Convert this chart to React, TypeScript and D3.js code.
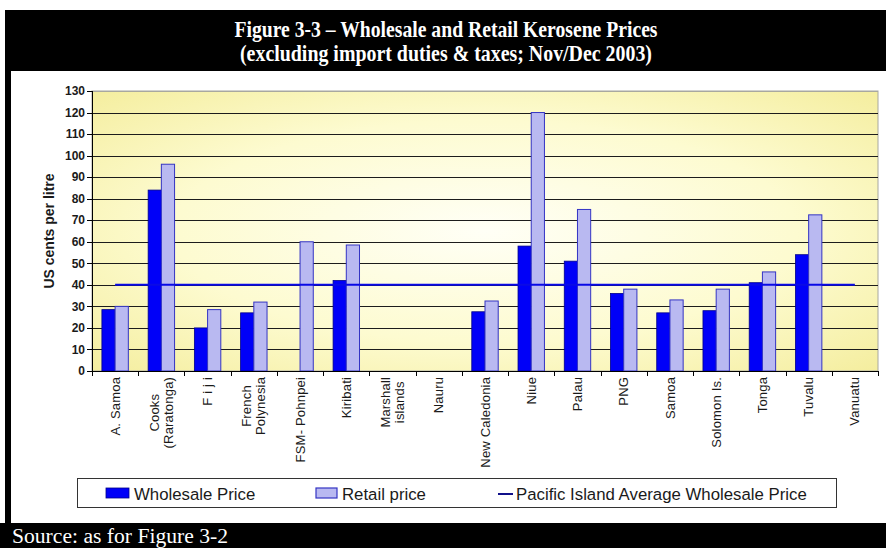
import React from "react";
import * as d3 from "d3";

const categories = [
  "A. Samoa",
  "Cooks\n(Raratonga)",
  "F i j i",
  "French\nPolynesia",
  "FSM- Pohnpei",
  "Kiribati",
  "Marshall\nislands",
  "Nauru",
  "New Caledonia",
  "Niue",
  "Palau",
  "PNG",
  "Samoa",
  "Solomon Is.",
  "Tonga",
  "Tuvalu",
  "Vanuatu",
];
const wholesale: (number | null)[] = [28.5, 84, 20, 27, null, 42, null, null, 27.5, 58, 51, 36, 27, 28, 41, 54, null];
const retail: (number | null)[] = [30, 96, 28.5, 32, 60, 58.5, null, null, 32.5, 120, 75, 38, 33, 38, 46, 72.5, null];
const averageWholesale = 40;
const yTicks = [0, 10, 20, 30, 40, 50, 60, 70, 80, 90, 100, 110, 120, 130];
const seriesNames = ["Wholesale Price", "Retail price"];
const lineName = "Pacific Island Average Wholesale Price";
const titleLines = [
  "Figure 3-3 \u2013 Wholesale and Retail Kerosene Prices",
  "(excluding import duties & taxes; Nov/Dec 2003)",
];
const yTitle = "US cents per litre";
const sourceText = "Source: as for Figure 3-2";

const W = 886;
const H = 548;
const plot = { left: 92, right: 878, top: 91, bottom: 371 };

const WHOLESALE_FILL = "#0000f8";
const WHOLESALE_STROKE = "#00008a";
const RETAIL_FILL = "#b9b9f1";
const RETAIL_STROKE = "#3434c4";
const LINE_COLOR = "#0a0ae6";
const SANS = "'Liberation Sans', Arial, sans-serif";
const SERIF = "'Liberation Serif', 'Times New Roman', serif";

let ctx: CanvasRenderingContext2D | null = null;
function measure(text: string, font: string, spacing = 0): number {
  if (!ctx) {
    const c = document.createElement("canvas");
    ctx = c.getContext("2d");
  }
  if (!ctx) return text.length * 6;
  ctx.font = font;
  return ctx.measureText(text).width + spacing * Math.max(0, text.length - 1);
}

export default function App() {
  const x = d3.scaleBand<string>().domain(categories).range([plot.left, plot.right]).padding(0);
  const inner = d3
    .scaleBand<string>()
    .domain(seriesNames)
    .range([0, x.bandwidth()])
    .paddingInner(0)
    .paddingOuter(0.75);
  const y = d3.scaleLinear().domain([0, 130]).range([plot.bottom, plot.top]);

  const boundaries = categories.map((c) => x(c) as number).concat([plot.right]);
  const labelSize = 13;
  const labelFont = `${labelSize}px ${SANS}`;
  const labelSpacing = 0.2;
  const labelTop = 377;

  const firstCenter = (x(categories[0]) as number) + x.bandwidth() / 2;
  const lastCenter = (x(categories[categories.length - 1]) as number) + x.bandwidth() / 2;

  return (
    <svg
      width={W}
      height={H}
      style={{ position: "absolute", left: 0, top: 0, display: "block", background: "#fff" }}
    >
      <defs>
        <radialGradient id="plotBg" cx="50%" cy="50%" r="72%">
          <stop offset="0%" stopColor="#fffff6" />
          <stop offset="55%" stopColor="#fdfbd0" />
          <stop offset="100%" stopColor="#f4ed9c" />
        </radialGradient>
      </defs>

      {/* header band */}
      <rect x={5} y={10} width={W - 5} height={61} fill="#000" />
      {titleLines.map((t, i) => (
        <text
          key={i}
          x={446}
          y={37 + i * 24}
          textAnchor="middle"
          fill="#fff"
          fontFamily={SERIF}
          fontWeight="bold"
          fontSize={22.5}
          textLength={i === 0 ? 423 : 412}
          lengthAdjust="spacingAndGlyphs"
        >
          {t}
        </text>
      ))}
      {/* left border */}
      <rect x={5} y={10} width={6} height={H - 10} fill="#000" />
      {/* source band */}
      <rect x={0} y={523} width={W} height={H - 523} fill="#000" />
      <text
        x={12}
        y={543}
        fill="#fff"
        fontFamily={SERIF}
        fontSize={20}
        textLength={216}
        lengthAdjust="spacingAndGlyphs"
      >
        {sourceText}
      </text>

      {/* plot background */}
      <rect
        x={plot.left}
        y={plot.top}
        width={plot.right - plot.left}
        height={plot.bottom - plot.top}
        fill="url(#plotBg)"
        stroke="#a8a8a0"
        strokeWidth={1}
      />
      {/* gridlines */}
      {yTicks
        .filter((t) => t > 0)
        .map((t) => (
          <line
            key={t}
            x1={plot.left}
            x2={plot.right}
            y1={Math.round(y(t)) + 0.5}
            y2={Math.round(y(t)) + 0.5}
            stroke={t === 130 ? "#a8a8a0" : "#1c1c1c"}
            strokeWidth={1}
          />
        ))}

      {/* bars */}
      {categories.map((c, i) => {
        const x0 = x(c) as number;
        const out: React.ReactNode[] = [];
        const w = wholesale[i];
        const r = retail[i];
        if (w != null) {
          out.push(
            <rect
              key={c + "w"}
              x={x0 + (inner(seriesNames[0]) as number)}
              y={y(w)}
              width={inner.bandwidth()}
              height={y(0) - y(w)}
              fill={WHOLESALE_FILL}
              stroke={WHOLESALE_STROKE}
              strokeWidth={0.8}
            />
          );
        }
        if (r != null) {
          out.push(
            <rect
              key={c + "r"}
              x={x0 + (inner(seriesNames[1]) as number)}
              y={y(r)}
              width={inner.bandwidth()}
              height={y(0) - y(r)}
              fill={RETAIL_FILL}
              stroke={RETAIL_STROKE}
              strokeWidth={1}
            />
          );
        }
        return <g key={c}>{out}</g>;
      })}

      {/* average line */}
      <line
        x1={firstCenter}
        x2={lastCenter}
        y1={y(averageWholesale)}
        y2={y(averageWholesale)}
        stroke={LINE_COLOR}
        strokeWidth={2}
      />

      {/* y axis */}
      <line x1={plot.left + 0.5} x2={plot.left + 0.5} y1={plot.top} y2={plot.bottom} stroke="#000" />
      {yTicks.map((t) => (
        <g key={t}>
          <line
            x1={plot.left - 5}
            x2={plot.left}
            y1={Math.round(y(t)) + 0.5}
            y2={Math.round(y(t)) + 0.5}
            stroke="#000"
          />
          <text
            x={plot.left - 7}
            y={y(t)}
            dy="0.35em"
            textAnchor="end"
            fontFamily={SANS}
            fontWeight="bold"
            fontSize={12}
            fill="#1a1a1a"
          >
            {t}
          </text>
        </g>
      ))}
      <text
        transform={`translate(54,${(plot.top + plot.bottom) / 2}) rotate(-90)`}
        textAnchor="middle"
        fontFamily={SANS}
        fontWeight="bold"
        fontSize={14}
        fill="#1a1a1a"
      >
        {yTitle}
      </text>

      {/* x axis */}
      <line x1={plot.left} x2={plot.right} y1={plot.bottom + 0.5} y2={plot.bottom + 0.5} stroke="#000" />
      {boundaries.map((b, i) => (
        <line
          key={i}
          x1={Math.round(b) + 0.5}
          x2={Math.round(b) + 0.5}
          y1={plot.bottom}
          y2={plot.bottom + 5}
          stroke="#000"
        />
      ))}
      {categories.map((c) => {
        const lines = c.split("\n");
        const maxLen = Math.max(...lines.map((l) => measure(l, labelFont, labelSpacing)));
        const cx = (x(c) as number) + x.bandwidth() / 2;
        const lh = 14;
        return (
          <g key={c} transform={`translate(${cx},${labelTop + maxLen / 2}) rotate(-90)`}>
            {lines.map((l, j) => (
              <text
                key={j}
                x={0}
                y={(j - (lines.length - 1) / 2) * lh}
                dy="0.35em"
                textAnchor="middle"
                fontFamily={SANS}
                fontSize={labelSize}
                letterSpacing={labelSpacing}
                fill="#1a1a1a"
              >
                {l}
              </text>
            ))}
          </g>
        );
      })}

      {/* legend */}
      <rect x={77.5} y={478.5} width={759} height={29} fill="#fff" stroke="#333" strokeWidth={1} />
      <rect x={106} y={488} width={23} height={10} fill={WHOLESALE_FILL} stroke={WHOLESALE_STROKE} strokeWidth={0.8} />
      <text x={134} y={500} fontFamily={SANS} fontSize={16.8} fill="#1a1a1a">
        {seriesNames[0]}
      </text>
      <rect x={316} y={488} width={21} height={10} fill={RETAIL_FILL} stroke={RETAIL_STROKE} strokeWidth={1.2} />
      <text x={342} y={500} fontFamily={SANS} fontSize={16.8} fill="#1a1a1a">
        {seriesNames[1]}
      </text>
      <line x1={498} x2={513} y1={494} y2={494} stroke="#10108a" strokeWidth={2} />
      <text x={516} y={500} fontFamily={SANS} fontSize={16.8} fill="#1a1a1a">
        {lineName}
      </text>
    </svg>
  );
}
